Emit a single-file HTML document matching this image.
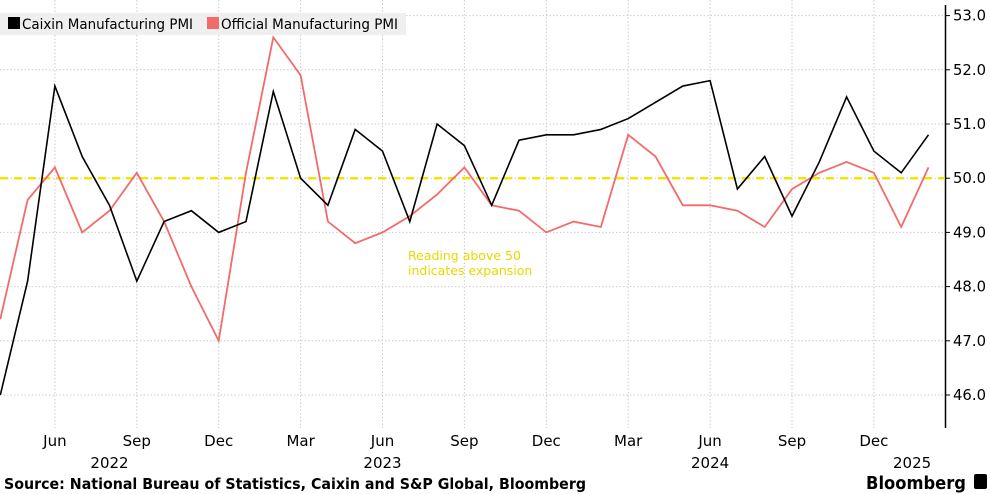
<!DOCTYPE html>
<html><head><meta charset="utf-8"><style>
body{margin:0;background:#fff;}
svg{display:block;font-family:"DejaVu Sans","Liberation Sans",sans-serif;}
</style></head><body>
<svg id="chart" width="990" height="494"></svg>
<script>
const months = ["Apr22","May22","Jun22","Jul22","Aug22","Sep22","Oct22","Nov22","Dec22","Jan23","Feb23","Mar23","Apr23","May23","Jun23","Jul23","Aug23","Sep23","Oct23","Nov23","Dec23","Jan24","Feb24","Mar24","Apr24","May24","Jun24","Jul24","Aug24","Sep24","Oct24","Nov24","Dec24","Jan25","Feb25"];
const caixin = [46.0,48.1,51.7,50.4,49.5,48.1,49.2,49.4,49.0,49.2,51.6,50.0,49.5,50.9,50.5,49.2,51.0,50.6,49.5,50.7,50.8,50.8,50.9,51.1,51.4,51.7,51.8,49.8,50.4,49.3,50.3,51.5,50.5,50.1,50.8];
const official = [47.4,49.6,50.2,49.0,49.4,50.1,49.2,48.0,47.0,50.1,52.6,51.9,49.2,48.8,49.0,49.3,49.7,50.2,49.5,49.4,49.0,49.2,49.1,50.8,50.4,49.5,49.5,49.4,49.1,49.8,50.1,50.3,50.1,49.1,50.2];
const yTicks = [46,47,48,49,50,51,52,53];
const xTickIdx = [2,5,8,11,14,17,20,23,26,29,32];
const xTickLabels = ["Jun","Sep","Dec","Mar","Jun","Sep","Dec","Mar","Jun","Sep","Dec"];
const yearIdx = [4,14,26,33.4];
const yearLabels = ["2022","2023","2024","2025"];

const NS="http://www.w3.org/2000/svg";
const svg=document.getElementById('chart');
const x=i=>0.3+i*27.3;
const y=v=>395-(v-46)*54.2;
function el(t,a,p){const e=document.createElementNS(NS,t);for(const k in a)e.setAttribute(k,a[k]);(p||svg).appendChild(e);return e;}

yTicks.forEach(v=>{
  const g=el('line',{x1:0,x2:945,y1:y(v),y2:y(v),stroke:'#ccc','stroke-dasharray':'1.5,2'});
  
  
  const tk=el('line',{x1:945,x2:950,y1:y(v),y2:y(v),stroke:'#000'});
  
  
  const t=el('text',{x:953,y:y(v)+5,'font-size':15,fill:'#000',textLength:33,lengthAdjust:'spacingAndGlyphs'});
  t.textContent=v.toFixed(1);
  
  
});
xTickIdx.forEach((i,k)=>{
  const g=el('line',{x1:x(i),x2:x(i),y1:0,y2:428,stroke:'#ccc','stroke-dasharray':'1.5,2'});
  
  
  const t=el('text',{x:x(i),y:446,'font-size':15,'text-anchor':'middle',fill:'#000'});
  t.textContent=xTickLabels[k];
  
  
});
yearIdx.forEach((i,k)=>{
  const t=el('text',{x:x(i),y:468,'font-size':15,'text-anchor':'middle',fill:'#000'});
  t.textContent=yearLabels[k];
  
  
});
const ax=el('line',{x1:945.5,x2:945.5,y1:5,y2:428,stroke:'#000','stroke-width':1.5});


const ref=el('line',{x1:0,x2:945,y1:y(50),y2:y(50),stroke:'#f5e600','stroke-width':2.5,'stroke-dasharray':'8,6'});


const n1=el('text',{x:408,y:260,'font-size':12.5,fill:'#e8d800'});n1.textContent='Reading above 50';


const n2=el('text',{x:408,y:275,'font-size':12.5,fill:'#e8d800'});n2.textContent='indicates expansion';



const po=el('polyline',{points:official.map((v,i)=>x(i)+','+y(v)).join(' '),fill:'none',stroke:'#f26b6b','stroke-width':1.8});


const pc=el('polyline',{points:caixin.map((v,i)=>x(i)+','+y(v)).join(' '),fill:'none',stroke:'#000','stroke-width':1.6});



const lg=el('rect',{x:0,y:13,width:406,height:22,fill:'#efefef'});


const s1=el('rect',{x:8,y:17,width:12,height:12,fill:'#000'});


const l1=el('text',{x:22,y:29,'font-size':14.5,fill:'#000',textLength:171,lengthAdjust:'spacingAndGlyphs'});l1.textContent='Caixin Manufacturing PMI';


const s2=el('rect',{x:207,y:17,width:12,height:12,fill:'#f26b6b'});


const l2=el('text',{x:221,y:29,'font-size':14.5,fill:'#000',textLength:177,lengthAdjust:'spacingAndGlyphs'});l2.textContent='Official Manufacturing PMI';



const src=el('text',{x:4,y:489,'font-size':15,'font-weight':'bold',fill:'#000',textLength:582,lengthAdjust:'spacingAndGlyphs'});
src.textContent='Source: National Bureau of Statistics, Caixin and S&P Global, Bloomberg';


const bb=el('text',{x:866,y:489,'font-size':18,'font-weight':'bold',fill:'#000',textLength:100,lengthAdjust:'spacingAndGlyphs'});
bb.textContent='Bloomberg';


const ic=el('rect',{x:974,y:474,width:13,height:15,rx:2,fill:'#000'});


</script>
</body></html>
